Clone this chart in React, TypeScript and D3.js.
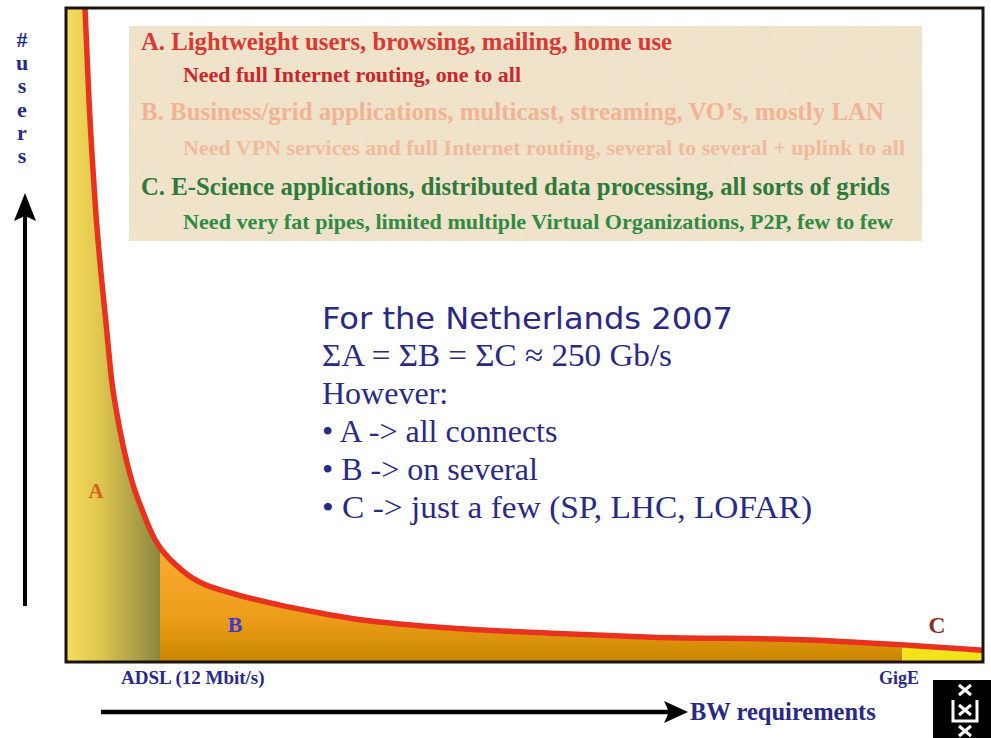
import * as d3 from 'd3'

// bandwidth requirement (abstract 0..100) vs. number of users (abstract 0..100)
const bwSteps = [2.07, 2.51, 3.16, 4.47, 4.98, 5.53, 6.25, 7.16, 8.43, 9.6, 10.36, 11.12, 12.1, 13.3, 14.61, 17.88, 23.34, 27.7, 31.0, 41.9, 53, 63.9, 80.3, 100]
const userCounts = [100, 85.9, 70.6, 50.3, 43.1, 38.1, 32.9, 27.8, 22.8, 19.0, 17.3, 16.05, 14.7, 13.3, 12.2, 10.6, 8.7, 7.5, 6.7, 5.2, 4.4, 3.8, 3.4, 1.8]

// A | B | C split along the BW axis (ADSL and GigE)
const segmentBounds = [0, 10.25, 91.2, 100]
const segmentNames = ['A', 'B', 'C']
const boundaryLabels = ['ADSL (12 Mbit/s)', 'GigE']

const infoLines = [
  'A. Lightweight users, browsing, mailing, home use',
  'Need full Internet routing, one to all',
  'B. Business/grid applications, multicast, streaming, VO\u2019s, mostly LAN',
  'Need VPN services and full Internet routing, several to several + uplink to all',
  'C. E-Science applications, distributed data processing, all sorts of grids',
  'Need very fat pipes, limited multiple Virtual Organizations, P2P, few to few',
]

const summaryTitle = 'For the Netherlands 2007'
const summaryLines = [
  '\u03a3A = \u03a3B = \u03a3C \u2248 250 Gb/s',
  'However:',
  '\u2022 A -> all connects',
  '\u2022 B -> on several',
  '\u2022 C -> just a few (SP, LHC, LOFAR)',
]

const yAxisLetters = ['#', 'u', 's', 'e', 'r', 's']
const xAxisTitle = 'BW requirements'

const W = 991
const H = 738
const serif = '"Liberation Serif", "Times New Roman", serif'
const navy = '#2a2a86'

type Pt = [number, number]

export default function App() {
  const x = d3.scaleLinear().domain([0, 100]).range([66, 983])
  const y = d3.scaleLinear().domain([0, 100]).range([662, 8])

  const pts: Pt[] = bwSteps.map((b, i) => [b, userCounts[i]])
  const line = d3.line<Pt>().x(d => x(d[0])).y(d => y(d[1])).curve(d3.curveMonotoneX)
  const area = d3.area<Pt>().x(d => x(d[0])).y0(y(0)).y1(d => y(d[1])).curve(d3.curveMonotoneX)

  // styles for the coloured text block
  const infoStyle = [
    { x: 141, y: 50, size: 24.5, len: 531, color: '#d83a33' },
    { x: 183, y: 82, size: 22, len: 338, color: '#c8272b' },
    { x: 141, y: 120, size: 24.5, len: 743, color: '#f2b395' },
    { x: 183, y: 155, size: 22, len: 722, color: '#f1ba9d' },
    { x: 141, y: 195, size: 24.5, len: 749, color: '#2e7a3b' },
    { x: 183, y: 229, size: 22, len: 710, color: '#2f8a42' },
  ]
  const summaryLens = [350, 0, 0, 0, 490]
  const segFills = ['url(#gradA)', 'url(#gradB)', '#f3e31c']
  const segLabel = [
    { x: 96, y: 498, size: 21, color: '#d4621c' },
    { x: 235, y: 632, size: 22, color: '#3b3bd0' },
    { x: 937, y: 633, size: 23.5, color: '#8a2d1d' },
  ]

  return (
    <svg width={W} height={H} style={{ position: 'absolute', left: 0, top: 0, background: '#fff' }}>
      <defs>
        <linearGradient id="gradA" gradientUnits="userSpaceOnUse" x1={x(0)} y1={0} x2={x(segmentBounds[1])} y2={0}>
          <stop offset="0" stopColor="#f6dd5a" />
          <stop offset="0.35" stopColor="#e0c74f" />
          <stop offset="1" stopColor="#8b8640" />
        </linearGradient>
        <linearGradient id="gradB" gradientUnits="userSpaceOnUse" x1={0} y1={y(16)} x2={0} y2={y(0)}>
          <stop offset="0" stopColor="#f8aa30" />
          <stop offset="0.6" stopColor="#eb9c18" />
          <stop offset="1" stopColor="#c98600" />
        </linearGradient>
        {segmentNames.map((n, i) => (
          <clipPath id={`clip${n}`} key={n}>
            <rect x={x(segmentBounds[i])} y={y(100)} width={x(segmentBounds[i + 1]) - x(segmentBounds[i])} height={y(0) - y(100)} />
          </clipPath>
        ))}
        <clipPath id="plotClip">
          <rect x={x(0)} y={y(100)} width={x(100) - x(0)} height={y(0) - y(100)} />
        </clipPath>
        <filter id="paper" x="0" y="0" width="100%" height="100%">
          <feTurbulence type="fractalNoise" baseFrequency="0.045" numOctaves="3" seed="7" result="n" />
          <feColorMatrix in="n" type="matrix"
            values="0 0 0 0 0.82  0 0 0 0 0.74  0 0 0 0 0.6  0 0 0 1.4 -0.55" />
        </filter>
      </defs>

      {/* text panel */}
      <rect x={129} y={26} width={793} height={215} fill="#f0e3ca" />
      <rect x={129} y={26} width={793} height={215} fill="#fff" filter="url(#paper)" opacity={0.55} />

      {/* areas under curve */}
      <g clipPath="url(#plotClip)">
        {segmentNames.map((n, i) => (
          <g key={n} clipPath={`url(#clip${n})`}>
            <path d={area(pts) || ''} fill={segFills[i]} />
            {i === 0 && <rect x={x(0)} y={y(100)} width={x(bwSteps[0]) - x(0) + 1} height={y(0) - y(100)} fill={segFills[0]} />}
          </g>
        ))}
        <path d={line(pts) || ''} fill="none" stroke="#e8321f" strokeWidth={5.5} />
      </g>

      {/* plot frame */}
      <rect x={x(0)} y={y(100)} width={x(100) - x(0)} height={y(0) - y(100)} fill="none" stroke="#1a1410" strokeWidth={3} />

      {/* segment letters */}
      {segmentNames.map((n, i) => (
        <text key={n} x={segLabel[i].x} y={segLabel[i].y} textAnchor="middle" fontFamily={serif} fontWeight="bold"
          fontSize={segLabel[i].size} fill={segLabel[i].color}>{n}</text>
      ))}

      {/* info text */}
      {infoLines.map((t, i) => (
        <text key={i} x={infoStyle[i].x} y={infoStyle[i].y} fontFamily={serif} fontWeight="bold" fontSize={infoStyle[i].size}
          fill={infoStyle[i].color} textLength={infoStyle[i].len} lengthAdjust="spacingAndGlyphs">{t}</text>
      ))}

      {/* summary */}
      <text x={322} y={329} fontFamily='"DejaVu Sans", Verdana, sans-serif' fontSize={31} fill={navy}
        textLength={411} lengthAdjust="spacingAndGlyphs">{summaryTitle}</text>
      {summaryLines.map((t, i) => (
        <text key={i} x={322} y={366 + i * 38} fontFamily={serif} fontSize={32} fill={navy}
          {...(summaryLens[i] ? { textLength: summaryLens[i], lengthAdjust: 'spacingAndGlyphs' } : {})}>{t}</text>
      ))}

      {/* y axis title */}
      {yAxisLetters.map((c, i) => (
        <text key={i} x={22} y={47 + i * 23.2} textAnchor="middle" fontFamily={serif} fontWeight="bold" fontSize={22} fill={navy}>{c}</text>
      ))}
      <line x1={25} y1={606} x2={25} y2={214} stroke="#000" strokeWidth={4} />
      <path d="M25,193 L36,221 L25,216 L14,221 Z" fill="#000" />

      {/* x axis boundaries and title */}
      <text x={121} y={684} fontFamily={serif} fontWeight="bold" fontSize={19} fill={navy}>{boundaryLabels[0]}</text>
      <text x={899} y={684} textAnchor="middle" fontFamily={serif} fontWeight="bold" fontSize={18} fill={navy}>{boundaryLabels[1]}</text>
      <line x1={101} y1={712} x2={672} y2={712} stroke="#000" strokeWidth={4.5} />
      <path d="M688,712 L664,701 L669,712 L664,723 Z" fill="#000" />
      <text x={690} y={720} fontFamily={serif} fontWeight="bold" fontSize={24.5} fill={navy}>{xAxisTitle}</text>

      {/* logo */}
      <rect x={933} y={680} width={58} height={58} fill="#000" />
      <g stroke="#fff" strokeWidth={3} fill="none">
        {[690, 710, 731].map(cy => (
          <path key={cy} d={`M${959},${cy - 5} L${971},${cy + 5} M${971},${cy - 5} L${959},${cy + 5}`} />
        ))}
        <path d="M953,700 L953,721 L977,721 L977,700" />
      </g>
    </svg>
  )
}
